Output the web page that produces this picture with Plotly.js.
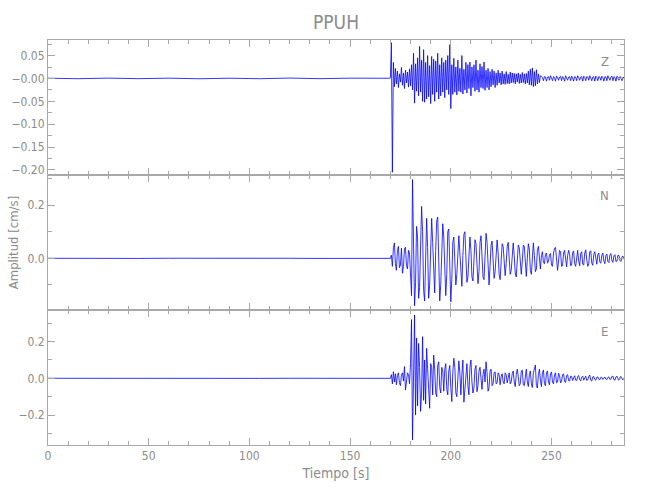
<!DOCTYPE html>
<html>
<head>
<meta charset="utf-8">
<script src="https://cdn.plot.ly/plotly-3.0.1.min.js"></script>
<style>html,body{margin:0;padding:0;background:#fff;}#chart{width:650px;height:500px;}</style>
</head>
<body>
<div id="chart"></div>
<script>
// Station / component labels
const stationName = "PPUH";
const components = ["Z", "N", "E"];

// Pre-event samples (s, cm/s)
const preTime = [0, 15, 30, 45, 60, 75, 90, 105, 120, 135, 150, 165, 169.5];
const zPre = [0.0005, -0.0006, 0.0007, -0.0005, 0.0006, -0.0007, 0.0005, -0.0006, 0.0008, -0.0005, 0.0006, -0.0007, 0.0004];
const nPre = [0.0003, -0.0004, 0.0003, -0.0003, 0.0004, -0.0003, 0.0003, -0.0004, 0.0003, -0.0003, 0.0004, -0.0003, 0.0002];
const ePre = [0.0003, -0.0003, 0.0004, -0.0003, 0.0003, -0.0004, 0.0003, -0.0003, 0.0004, -0.0003, 0.0003, -0.0004, 0.0002];

// Event samples, starting at sampleStart with sampleStep spacing (s)
const sampleStart = 170;
const sampleStep = 0.5;

const zValues = [
0.001, 0.078, -0.205, 0.035, -0.018, 0.022, -0.012, 0.016, -0.020, 0.010,
-0.008, 0.024, -0.015, 0.012, -0.022, 0.018, -0.010, 0.014, -0.019, 0.021,
-0.016, 0.030, -0.025, 0.055, -0.054, 0.032, -0.028, 0.045, -0.038, 0.070,
-0.030, 0.040, -0.050, 0.063, -0.052, 0.035, -0.045, 0.050, -0.040, 0.028,
-0.055, 0.048, -0.035, 0.042, -0.050, 0.038, -0.030, 0.055, -0.045, 0.030,
-0.038, 0.045, -0.030, 0.035, -0.042, 0.040, -0.025, 0.050, -0.035, 0.074,
-0.066, 0.030, -0.035, 0.044, -0.030, 0.025, -0.036, 0.040, -0.028, 0.022,
-0.030, 0.050, -0.034, 0.020, -0.025, 0.035, -0.032, 0.030, -0.022, 0.036,
-0.038, 0.025, -0.020, 0.030, -0.028, 0.040, -0.025, 0.018, -0.030, 0.032,
-0.020, 0.026, -0.022, 0.036, -0.026, 0.018, -0.020, 0.022, -0.025, 0.015,
-0.018, 0.020, -0.014, 0.016, -0.020, 0.012, -0.015, 0.018, -0.010, 0.012,
-0.014, 0.016, -0.012, 0.010, -0.013, 0.015, -0.011, 0.009, -0.012, 0.014,
-0.010, 0.012, -0.009, 0.011, -0.012, 0.010, -0.008, 0.012, -0.011, 0.009,
-0.010, 0.013, -0.009, 0.010, -0.012, 0.011, -0.010, 0.016, -0.014, 0.020,
-0.015, 0.023, -0.018, 0.015, -0.016, 0.019, -0.012, 0.010, -0.009, 0.006,
0.005, 0.002, -0.005, 0.004, 0.003, -0.006, 0.003, 0.004, -0.004, 0.006,
0.001, -0.005, 0.004, 0.002, -0.006, 0.005, 0.003, -0.004, 0.003, 0.005,
-0.005, 0.004, 0.001, -0.006, 0.006, 0.002, -0.004, 0.003, 0.004, -0.005,
0.005, 0.001, -0.006, 0.004, 0.003, -0.005, 0.006, 0.002, -0.004, 0.003,
0.004, -0.006, 0.005, 0.002, -0.005, 0.004, 0.003, -0.004, 0.006, 0.001,
-0.005, 0.003, 0.004, -0.006, 0.005, 0.002, -0.005, 0.004, 0.003, -0.004,
0.005, 0.002, -0.006, 0.004, 0.003, -0.005, 0.006, 0.001, -0.004, 0.003,
0.005, -0.005, 0.004, 0.002, -0.006, 0.005, 0.003, -0.004, 0.004, 0.002,
-0.005, 0.003, 0.001
];

const nValues = [
0.000, 0.012, -0.030, 0.040, 0.058, -0.020, -0.045, 0.030, 0.045, -0.035,
-0.025, 0.038, -0.056, -0.030, 0.035, 0.042, -0.028, -0.040, 0.030, 0.020,
-0.100, -0.140, 0.296, 0.060, -0.178, -0.090, 0.120, 0.080, -0.150, -0.110,
0.070, 0.195, 0.100, -0.120, -0.160, 0.060, 0.150, 0.040, -0.150, -0.100,
0.080, 0.150, 0.060, -0.090, -0.130, 0.030, 0.140, 0.155, -0.050, -0.160,
-0.100, 0.050, 0.130, 0.080, -0.080, -0.140, -0.060, 0.100, 0.110, -0.020,
-0.163, -0.080, 0.060, 0.080, -0.030, -0.100, -0.060, 0.050, 0.085, 0.020,
-0.080, -0.105, 0.010, 0.090, 0.100, -0.030, -0.090, -0.070, 0.040, 0.080,
0.030, -0.070, -0.085, 0.020, 0.070, 0.055, -0.040, -0.095, -0.050, 0.060,
0.085, 0.020, -0.070, -0.080, 0.030, 0.094, 0.060, -0.060, -0.100, -0.030,
0.050, 0.065, -0.010, -0.075, -0.050, 0.030, 0.069, 0.020, -0.060, -0.080,
0.010, 0.055, 0.045, -0.030, -0.065, -0.020, 0.045, 0.060, -0.010, -0.060,
-0.045, 0.030, 0.058, 0.010, -0.055, -0.070, 0.015, 0.050, 0.040, -0.030,
-0.060, -0.010, 0.050, 0.045, -0.040, -0.068, 0.000, 0.055, 0.035, -0.045,
-0.060, 0.020, 0.058, 0.010, -0.050, -0.040, 0.030, 0.045, -0.020, -0.040,
0.010, 0.025, -0.015, -0.020, 0.015, 0.020, -0.018, -0.010, 0.012, 0.018,
-0.025, -0.030, 0.020, 0.038, 0.041, -0.020, -0.045, -0.010, 0.030, 0.025,
-0.030, -0.028, 0.020, 0.030, -0.015, -0.032, 0.010, 0.030, 0.015, -0.028,
-0.025, 0.022, 0.028, -0.020, -0.030, 0.015, 0.030, -0.010, -0.028, 0.018,
0.025, -0.022, -0.025, 0.020, 0.032, -0.005, -0.030, -0.020, 0.025, 0.028,
-0.018, -0.026, 0.015, 0.025, -0.012, -0.022, 0.014, 0.020, -0.015, -0.018,
0.012, 0.020, -0.010, -0.020, 0.010, 0.016, -0.012, -0.016, 0.012, 0.018,
-0.008, -0.015, 0.010, 0.014, -0.012, -0.010, 0.012, 0.010, -0.008, -0.012,
0.006, 0.008, -0.004
];

const eValues = [
0.000, 0.020, -0.030, 0.036, -0.020, 0.025, -0.035, 0.015, 0.030, -0.025,
-0.040, 0.020, 0.030, -0.015, 0.064, -0.064, -0.020, 0.030, 0.020, -0.030,
0.080, 0.320, -0.336, 0.150, 0.345, -0.200, 0.220, -0.150, 0.190, 0.060,
-0.180, -0.080, 0.227, -0.120, 0.100, -0.140, 0.163, 0.050, -0.100, -0.163,
0.080, 0.060, -0.090, 0.127, 0.050, -0.080, -0.100, 0.070, 0.090, -0.050,
-0.080, 0.060, 0.040, -0.070, 0.050, 0.080, -0.060, -0.090, 0.040, 0.070,
-0.050, -0.127, 0.030, 0.109, 0.060, -0.080, -0.100, 0.040, 0.095, 0.030,
-0.090, 0.020, 0.100, -0.130, -0.060, 0.050, 0.080, -0.040, -0.090, 0.060,
0.100, -0.020, -0.080, -0.050, 0.050, 0.070, -0.073, -0.040, 0.040, 0.060,
-0.030, -0.060, 0.020, 0.050, -0.020, 0.090, 0.030, -0.070, -0.050, 0.040,
0.050, -0.040, -0.030, 0.030, 0.035, -0.030, -0.025, 0.030, 0.020, -0.035,
0.010, 0.025, -0.020, -0.030, 0.030, 0.020, -0.025, 0.015, 0.030, -0.030,
-0.020, 0.025, 0.040, -0.020, -0.045, 0.020, 0.050, 0.010, -0.040, -0.030,
0.040, 0.045, -0.035, -0.040, 0.030, 0.050, -0.020, -0.045, 0.020, 0.040,
-0.030, -0.050, 0.030, 0.060, 0.073, -0.040, -0.053, 0.020, 0.050, -0.010,
-0.045, 0.030, 0.045, -0.030, -0.040, 0.030, 0.040, -0.020, -0.035, 0.025,
0.035, -0.020, -0.030, 0.020, 0.030, -0.025, -0.020, 0.028, 0.015, -0.025,
-0.015, 0.020, 0.025, -0.018, -0.022, 0.015, 0.020, -0.012, -0.015, 0.012,
0.010, -0.012, 0.008, 0.014, -0.010, -0.012, 0.010, 0.015, -0.008, -0.014,
0.006, 0.012, -0.010, 0.008, 0.012, -0.012, -0.008, 0.010, 0.018, -0.010,
-0.015, 0.008, 0.010, -0.006, -0.010, 0.006, 0.008, -0.005, -0.008, 0.006,
0.005, -0.006, 0.004, 0.007, -0.005, -0.006, 0.005, 0.008, -0.006, -0.004,
0.010, 0.012, -0.008, -0.010, 0.008, 0.012, -0.006, -0.010, 0.006, 0.010,
-0.004, -0.008, 0.004
];

// Axis tick labels
const zTickVals = [-0.20, -0.15, -0.10, -0.05, 0.00, 0.05];
const zTickText = ["\u22120.20", "\u22120.15", "\u22120.10", "\u22120.05", "\u22120.00", "0.05"];
const nTickVals = [0.0, 0.2];
const nTickText = ["0.0", "0.2"];
const eTickVals = [-0.2, 0.0, 0.2];
const eTickText = ["\u22120.2", "0.0", "0.2"];
const xTickVals = [0, 50, 100, 150, 200, 250];

function buildTimes(values) {
  const t = preTime.slice();
  for (let i = 0; i < values.length; i++) t.push(sampleStart + i * sampleStep);
  return t;
}

const lineStyle = {color: "#0000ff", width: 0.8};
const FONT = "'Liberation Sans Narrow', 'DejaVu Sans Condensed', 'Liberation Sans', sans-serif";
const GREY = "#8c8c8c";
const LINE = "#a8a8a8";

const traces = [
  {x: buildTimes(eValues), y: ePre.concat(eValues), xaxis: "x", yaxis: "y", type: "scatter", mode: "lines", line: lineStyle, hoverinfo: "skip"},
  {x: buildTimes(nValues), y: nPre.concat(nValues), xaxis: "x2", yaxis: "y2", type: "scatter", mode: "lines", line: lineStyle, hoverinfo: "skip"},
  {x: buildTimes(zValues), y: zPre.concat(zValues), xaxis: "x3", yaxis: "y3", type: "scatter", mode: "lines", line: lineStyle, hoverinfo: "skip"}
];

function xAxis(anchor, showLabels) {
  return {
    anchor: anchor, range: [0, 286], domain: [0, 1],
    tickvals: xTickVals, ticks: "inside", ticklen: 7, tickcolor: LINE, tickwidth: 1,
    minor: {dtick: 10, tick0: 0, ticks: "inside", ticklen: 4, tickcolor: LINE},
    showline: true, linecolor: LINE, linewidth: 1, mirror: "ticks",
    showgrid: false, zeroline: false, showticklabels: showLabels,
    tickfont: {family: FONT, size: 12, color: GREY}
  };
}
function yAxis(anchor, domain, range, vals, text, minorStep) {
  return {
    anchor: anchor, domain: domain, range: range,
    tickvals: vals, ticktext: text, ticks: "inside", ticklen: 7, tickcolor: LINE,
    minor: {dtick: minorStep, tick0: 0, ticks: "inside", ticklen: 4, tickcolor: LINE},
    showline: true, linecolor: LINE, linewidth: 1, mirror: "ticks",
    showgrid: false, zeroline: false,
    tickfont: {family: FONT, size: 12, color: GREY}
  };
}

const xa = xAxis("y", true);
xa.title = {text: "Tiempo [s]", font: {family: FONT, size: 14, color: GREY}, standoff: 5};
const ya2 = yAxis("x2", [0.3333, 0.6667], [-0.194, 0.313], nTickVals, nTickText, 0.1);
ya2.title = {text: "Amplitud [cm/s]", font: {family: FONT, size: 13, color: GREY}, standoff: 5};

function panelLabel(text, y) {
  return {text: text, xref: "paper", yref: "paper", x: 0.967, y: y, xanchor: "center", yanchor: "middle",
          showarrow: false, font: {family: FONT, size: 13, color: GREY}};
}

const layout = {
  width: 650, height: 500,
  margin: {l: 48, r: 26, t: 40, b: 55},
  paper_bgcolor: "#ffffff", plot_bgcolor: "#ffffff",
  showlegend: false,
  title: {text: stationName, x: 0.5, xref: "paper", y: 0.955, yref: "container", yanchor: "middle",
          font: {family: FONT, size: 19, color: GREY}},
  xaxis: xa,
  xaxis2: Object.assign(xAxis("y2", false), {matches: "x"}),
  xaxis3: Object.assign(xAxis("y3", false), {matches: "x"}),
  yaxis: yAxis("x", [0, 0.3333], [-0.363, 0.372], eTickVals, eTickText, 0.1),
  yaxis2: ya2,
  yaxis3: yAxis("x3", [0.6667, 1], [-0.211, 0.084], zTickVals, zTickText, 0.025),
  annotations: [
    panelLabel(components[0], 0.946),
    panelLabel(components[1], 0.615),
    panelLabel(components[2], 0.281)
  ]
};

Plotly.newPlot("chart", traces, layout, {displayModeBar: false, staticPlot: true});
</script>
</body>
</html>
